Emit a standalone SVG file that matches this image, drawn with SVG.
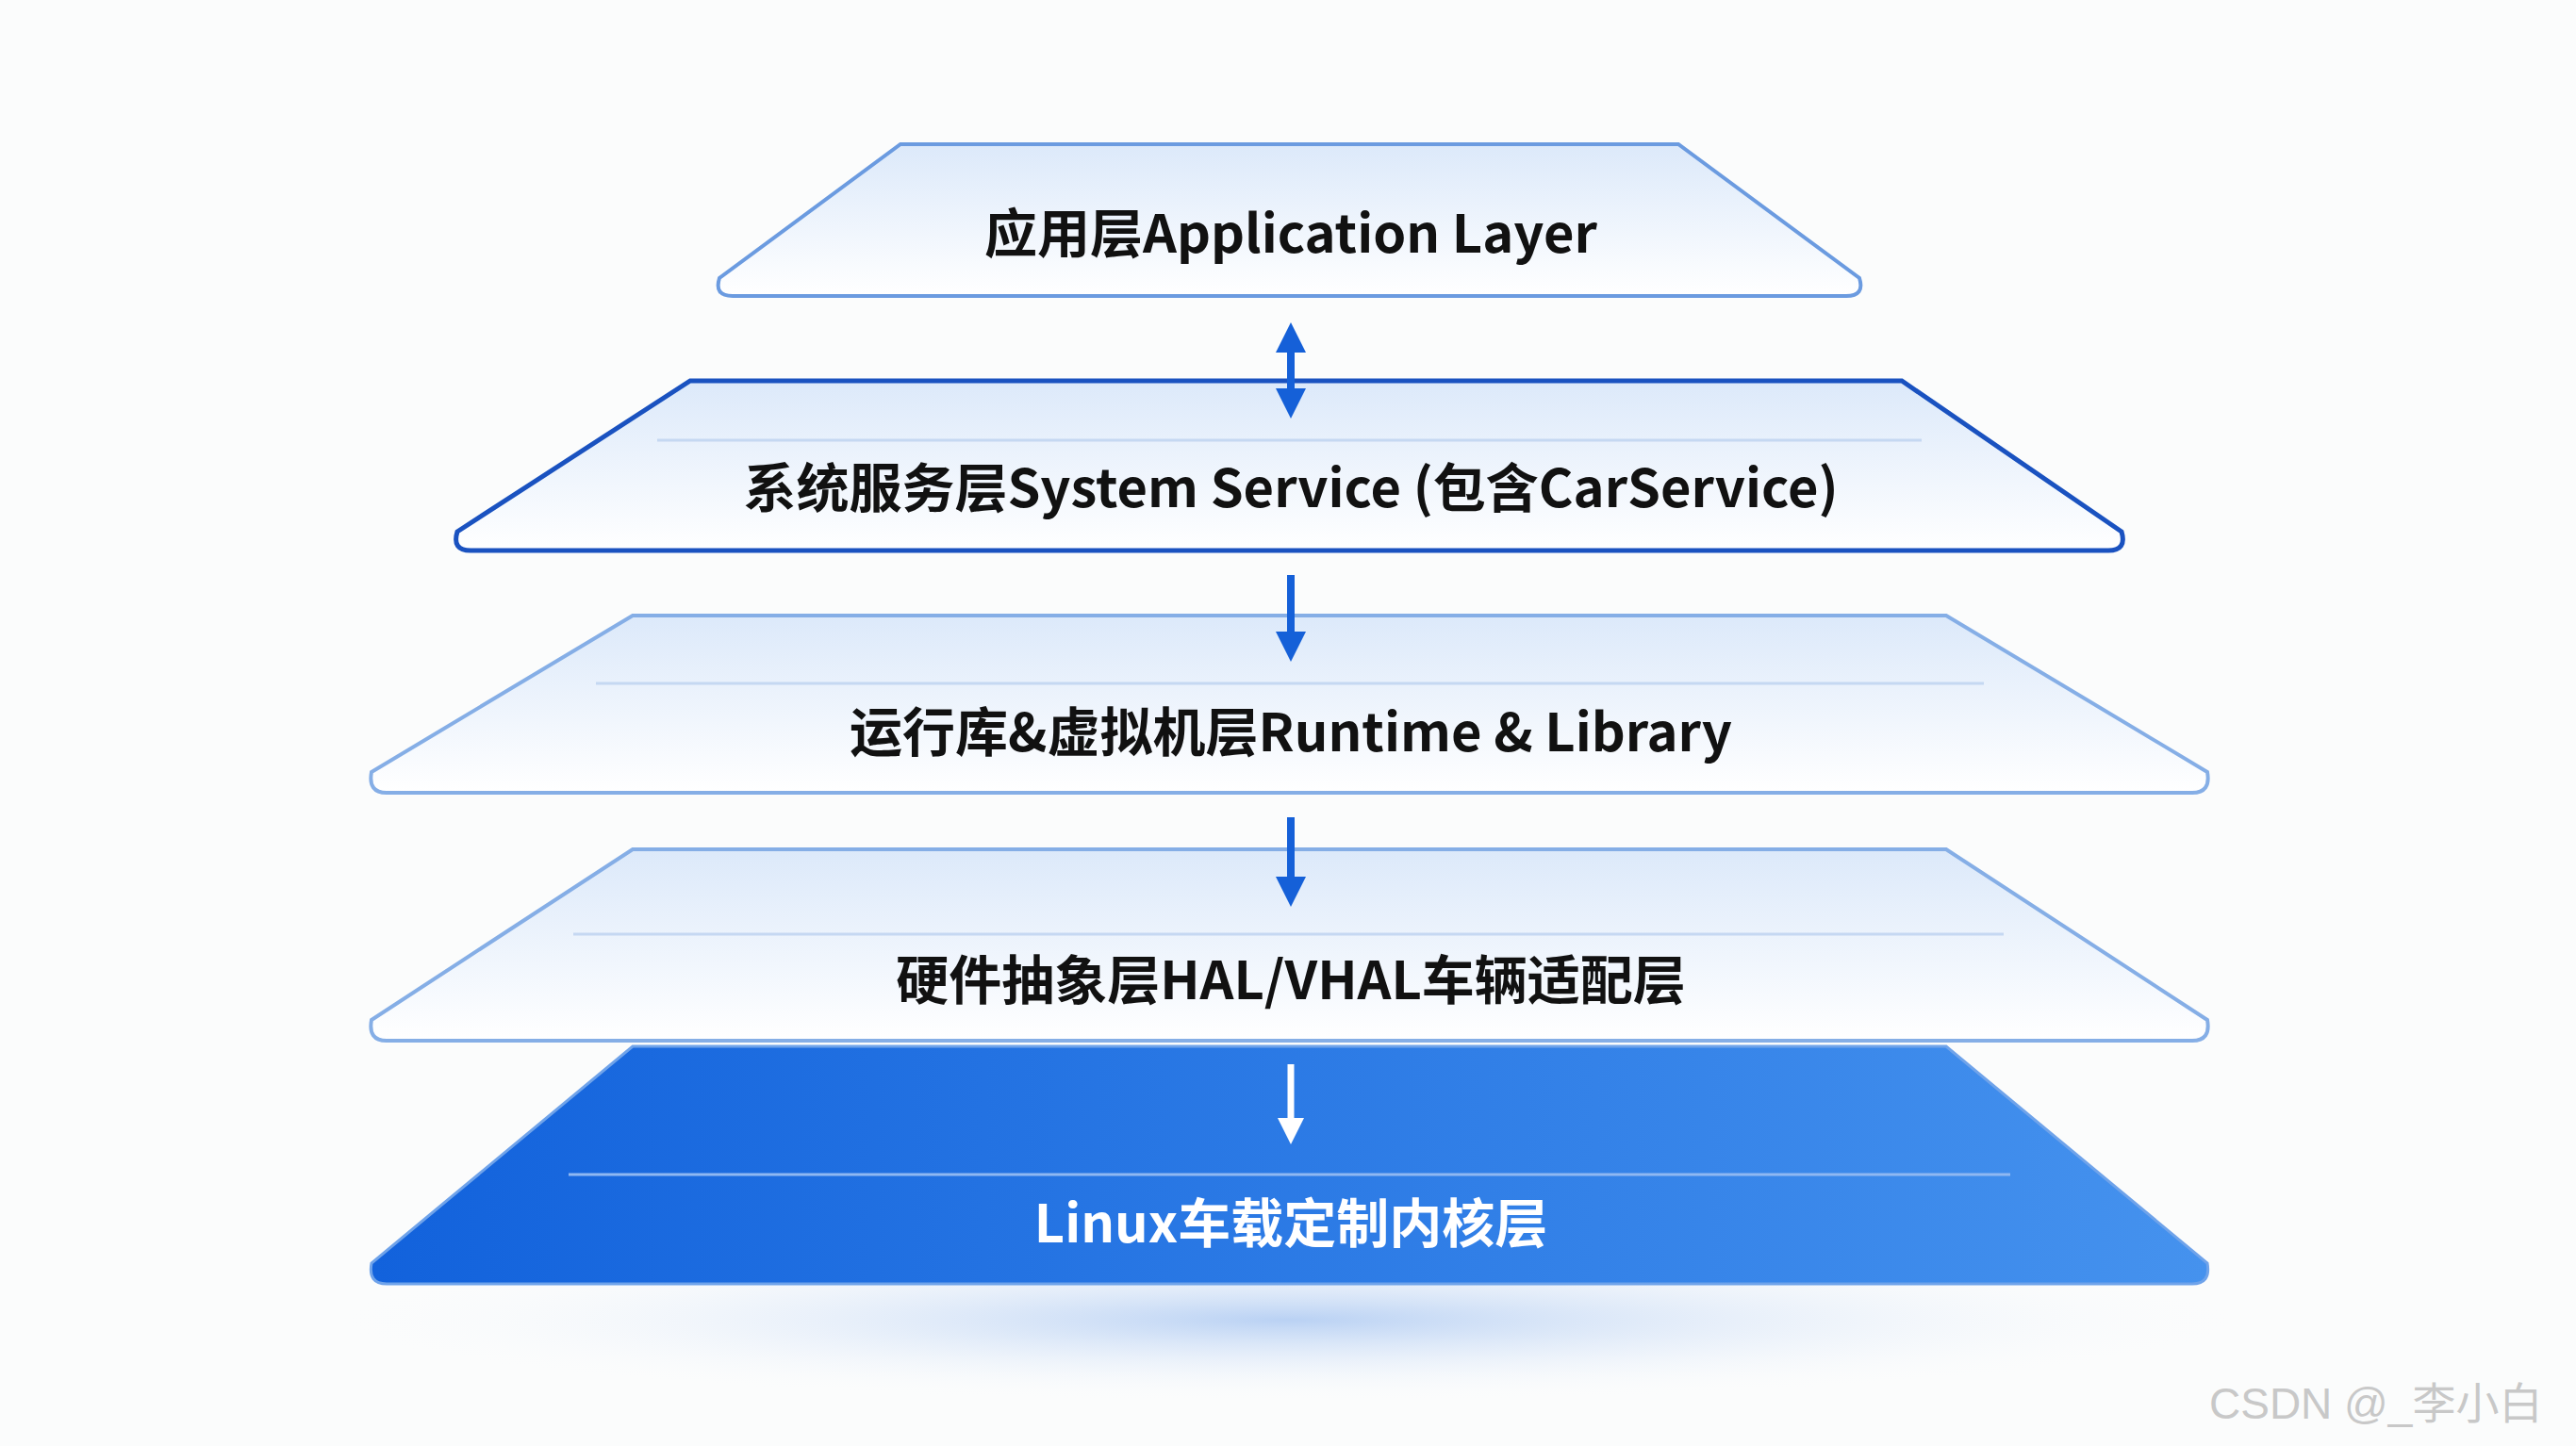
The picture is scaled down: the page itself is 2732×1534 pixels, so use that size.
<svg xmlns="http://www.w3.org/2000/svg" width="2732" height="1534" viewBox="0 0 2732 1534">
<defs>
<linearGradient id="lg" x1="0" y1="0" x2="0" y2="1"><stop offset="0" stop-color="#dce9fa"/><stop offset="1" stop-color="#ffffff"/></linearGradient>
<linearGradient id="bg5" x1="0" y1="0" x2="1" y2="0"><stop offset="0" stop-color="#1262dc"/><stop offset="1" stop-color="#4592ee"/></linearGradient>
<radialGradient id="sh" cx="0.5" cy="0.5" r="0.5"><stop offset="0" stop-color="#9dbff0" stop-opacity="0.7"/><stop offset="1" stop-color="#ffffff" stop-opacity="0"/></radialGradient>
<marker id="ah" viewBox="0 0 10 10" refX="5" refY="5" markerWidth="4" markerHeight="4" orient="auto-start-reverse"><path d="M0,0 L10,5 L0,10 z" fill="#1560d8"/></marker>
<marker id="aw" viewBox="0 0 10 10" refX="5" refY="5" markerWidth="4" markerHeight="4" orient="auto"><path d="M0,0 L10,5 L0,10 z" fill="#ffffff"/></marker>
</defs>
<style>
.t{font-family:"Noto Sans CJK SC","Noto Sans",sans-serif;font-weight:700;font-size:56px;fill:#111;text-anchor:middle;dominant-baseline:middle}
.ln{stroke:#c5d8f2;stroke-width:3}
.c{stroke:#1560d8;stroke-width:8;fill:none}
</style>
<rect width="2732" height="1534" fill="#fbfcfc"/>
<ellipse cx="1366" cy="1400" rx="1050" ry="90" fill="url(#sh)"/>
<g id="layer5">
<path d="M671,1110 L2064,1110 L2341,1340 Q2345,1362 2325,1362 L410,1362 Q390,1362 394,1340 Z" fill="url(#bg5)" stroke="#6fa3ea" stroke-width="3"/>
<line x1="603" y1="1246" x2="2132" y2="1246" stroke="#8fb8f2" stroke-width="3"/>
<text class="t" x="1369" y="1303" fill="#fff" style="fill:#fff">Linux车载定制内核层</text>
</g>
<g id="layer4">
<path d="M671,901 L2064,901 L2341,1082 Q2345,1104 2325,1104 L410,1104 Q390,1104 394,1082 Z" fill="url(#lg)" stroke="#85aee6" stroke-width="4"/>
<line class="ln" x1="608" y1="991" x2="2125" y2="991"/>
<text class="t" x="1369" y="1045">硬件抽象层HAL/VHAL车辆适配层</text>
</g>
<g id="layer3">
<path d="M671,653 L2064,653 L2341,819 Q2345,841 2325,841 L410,841 Q390,841 394,819 Z" fill="url(#lg)" stroke="#85aee6" stroke-width="4"/>
<line class="ln" x1="632" y1="725" x2="2104" y2="725"/>
<text class="t" x="1369" y="782">运行库&amp;虚拟机层Runtime &amp; Library</text>
</g>
<g id="layer2">
<path d="M732,404 L2017,404 L2250,564 Q2256,584 2236,584 L499,584 Q479,584 485,564 Z" fill="url(#lg)" stroke="#1a52c0" stroke-width="5"/>
<line class="ln" x1="697" y1="467" x2="2038" y2="467"/>
<text class="t" x="1369" y="523">系统服务层System Service (包含CarService)</text>
</g>
<g id="layer1">
<path d="M955,153 L1780,153 L1972,295 Q1978,314 1958,314 L777,314 Q757,314 763,295 Z" fill="url(#lg)" stroke="#6b9be0" stroke-width="4"/>
<text class="t" x="1369" y="253">应用层Application Layer</text>
</g>
<g id="connectors">
<line class="c" x1="1369" y1="358" x2="1369" y2="428" marker-start="url(#ah)" marker-end="url(#ah)"/>
<line class="c" x1="1369" y1="610" x2="1369" y2="686" marker-end="url(#ah)"/>
<line class="c" x1="1369" y1="867" x2="1369" y2="946" marker-end="url(#ah)"/>
<line x1="1369" y1="1129" x2="1369" y2="1200" stroke="#fff" stroke-width="7" marker-end="url(#aw)"/>
</g>
<text x="2343" y="1505" font-family="Liberation Sans,'Noto Sans CJK SC',sans-serif" font-size="46" fill="#c8c8c8">CSDN @_李小白</text>
</svg>
